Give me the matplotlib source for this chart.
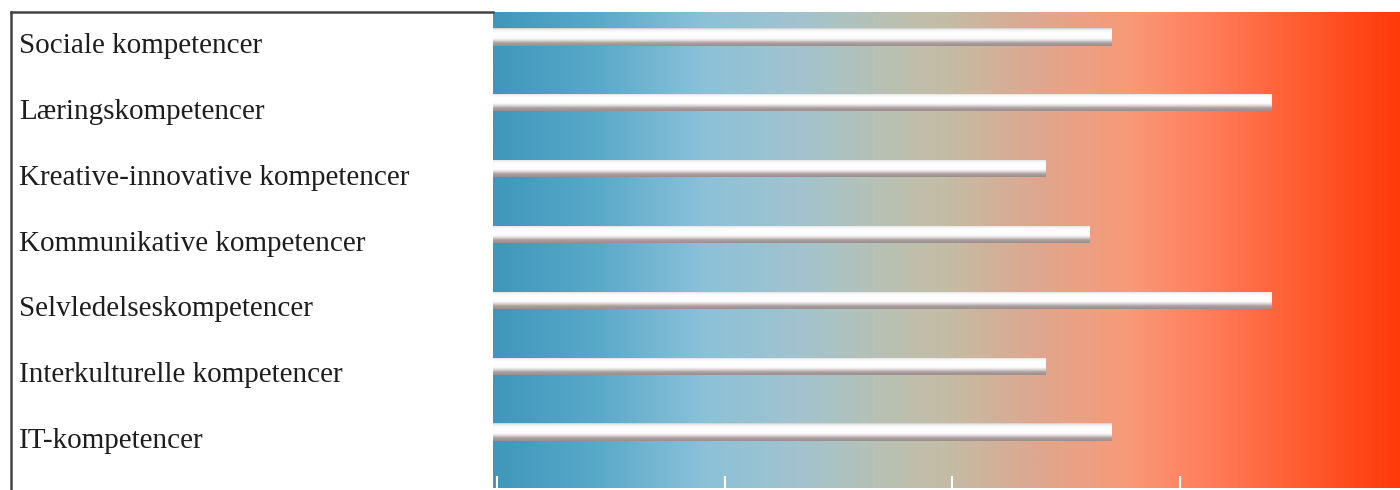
#Competence chart: horizontal 3D-ish bars over a blue->red gradient
import numpy as np
import matplotlib.pyplot as plt
import matplotlib.transforms as mtransforms
from matplotlib.colors import LinearSegmentedColormap
from matplotlib.lines import Line2D

#Data
labels = ["Sociale kompetencer", "Læringskompetencer", "Kreative-innovative kompetencer",
          "Kommunikative kompetencer", "Selvledelseskompetencer",
          "Interkulturelle kompetencer", "IT-kompetencer"]
values = [2.70, 3.40, 2.41, 2.60, 3.40, 2.41, 2.70]
ticks = [0, 1, 2, 3]

xmin, xmax = -0.018, 3.966
bar_h = 0.26

#Figure
fig = plt.figure(figsize=(14, 4.9), dpi=100)
ax = fig.add_axes([493/1400, 2/490, 1 - 493/1400, 476/490])

#Background gradient
bg = LinearSegmentedColormap.from_list("bg", [
    (0.00, "#3f97bb"), (0.11, "#58a8c8"), (0.23, "#8bc1d8"), (0.34, "#a3c3cd"),
    (0.45, "#bcc0ae"), (0.50, "#c4bca6"), (0.60, "#dea78f"), (0.70, "#f89a78"),
    (0.78, "#ff8060"), (0.88, "#ff6035"), (1.00, "#ff3a0a")])
ax.imshow(np.linspace(0, 1, 512)[None, :], cmap=bg, aspect="auto",
          extent=[0, 1, 0, 1], transform=ax.transAxes, zorder=0)

#Bars with a vertical shading to look like cylinders
shade = LinearSegmentedColormap.from_list("shade", [
    (0.0, "#cfcfcf"), (0.1, "#f2f2f2"), (0.25, "#ffffff"), (0.58, "#fbfbfb"),
    (0.70, "#dcd6d6"), (0.84, "#ab9e9e"), (1.0, "#9a8e8e")])
ys = np.arange(len(labels))
bars = ax.barh(ys, [v - xmin for v in values], left=xmin, height=bar_h,
               facecolor="none", edgecolor="none", zorder=2)
for b, y, v in zip(bars, ys, values):
    im = ax.imshow(np.linspace(0, 1, 64)[:, None], cmap=shade, aspect="auto",
                   extent=[xmin, v, y + bar_h/2, y - bar_h/2], zorder=2)
    im.set_clip_path(b)
ax.set_xlim(xmin, xmax)
ax.set_ylim(6.85, -0.38)

#Ticks: short white marks at the bottom only
ax.set_xticks(ticks)
ax.set_xticklabels([])
ax.tick_params(axis="x", direction="in", length=9, width=1.5, color="white", bottom=True)
ax.set_yticks([])
for s in ax.spines.values():
    s.set_visible(False)

#Labels in the white area on the left
trans = mtransforms.blended_transform_factory(fig.transFigure, ax.transData)
trans = trans + mtransforms.ScaledTranslation(0, -9/100, fig.dpi_scale_trans)
for y, lab in zip(ys, labels):
    ax.text(19/1400, y, lab, transform=trans, ha="left", va="center",
            family="Liberation Serif", fontsize=21, color="#1e1e1e", clip_on=False)

#Frame lines (left and top of the white label area)
fig.add_artist(Line2D([11/1400, 11/1400], [0, 1 - 12/490], color="#444444", lw=1.8))
fig.add_artist(Line2D([11/1400, 493/1400], [1 - 12/490, 1 - 12/490], color="#444444", lw=1.8))

fig.savefig("out.png", dpi=100, facecolor="white")
